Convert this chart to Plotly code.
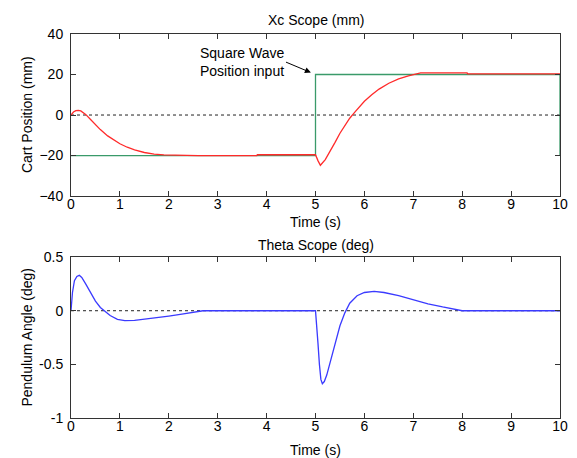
import plotly.graph_objects as go
from plotly.subplots import make_subplots

# Cart position response (mm)
cart_t = [0, 0.05, 0.1, 0.15, 0.2, 0.3, 0.4, 0.5, 0.6, 0.75, 0.9, 1.0, 1.15, 1.3, 1.5, 1.7,
          1.9, 2.2, 2.6, 3.0, 3.8, 3.81, 5.0, 5.05, 5.1, 5.2, 5.3, 5.4, 5.5, 5.6, 5.7, 5.8,
          5.9, 6.0, 6.15, 6.3, 6.5, 6.7, 6.9, 7.05, 7.15, 8.1, 8.11, 10]
cart_x = [0, 1.5, 2.2, 2.3, 2.0, 0.3, -2.2, -4.8, -7.2, -10.3, -12.8, -14.2, -15.9, -17.2,
          -18.5, -19.3, -19.7, -19.9, -20, -20, -20, -19.6, -19.6, -22.5, -24.8, -22.0,
          -18.0, -13.5, -9.0, -5.0, -1.6, 1.3, 4.0, 6.8, 10.0, 12.8, 15.7, 17.8, 19.3, 20.2,
          20.8, 20.8, 20.3, 20.3]

# Square wave reference input (mm)
ref_t = [0, 5, 5, 10, 10]
ref_x = [-20, -20, 20, 20, -20]

# Pendulum angle response (deg)
theta_t = [0, 0.03, 0.07, 0.12, 0.17, 0.22, 0.3, 0.4, 0.5, 0.6, 0.7, 0.8, 0.95, 1.1, 1.3,
           1.6, 2.0, 2.3, 2.6, 2.7, 5.0, 5.02, 5.05, 5.08, 5.11, 5.14, 5.18, 5.23, 5.3,
           5.4, 5.5, 5.6, 5.7, 5.85, 6.0, 6.2, 6.4, 6.7, 7.0, 7.3, 7.6, 7.9, 8.0, 10]
theta = [0, 0.17, 0.28, 0.32, 0.33, 0.31, 0.25, 0.17, 0.09, 0.03, -0.01, -0.045, -0.08,
         -0.093, -0.09, -0.075, -0.05, -0.03, -0.01, 0, 0, -0.1, -0.3, -0.5, -0.64, -0.68,
         -0.66, -0.6, -0.48, -0.3, -0.14, -0.02, 0.07, 0.14, 0.17, 0.18, 0.17, 0.14, 0.1,
         0.065, 0.035, 0.012, 0, 0]

time_range = [0, 10]
time_ticks = list(range(0, 11))
cart_ticks = [-40, -20, 0, 20, 40]
theta_ticks = [-1, -0.5, 0, 0.5]

FONT = "Arial, Liberation Sans, sans-serif"
FS = 14

fig = make_subplots(rows=2, cols=1, vertical_spacing=0.0)

# zero reference lines
for r in (1, 2):
    fig.add_trace(go.Scatter(x=time_range, y=[0, 0], mode="lines",
                             line=dict(color="#222222", width=1, dash="3px,3px"),
                             hoverinfo="skip"), row=r, col=1)

fig.add_trace(go.Scatter(x=ref_t, y=ref_x, mode="lines",
                         line=dict(color="#3a9a6a", width=1.3)), row=1, col=1)
fig.add_trace(go.Scatter(x=cart_t, y=cart_x, mode="lines",
                         line=dict(color="#ff2a2a", width=1.3)), row=1, col=1)
fig.add_trace(go.Scatter(x=theta_t, y=theta, mode="lines",
                         line=dict(color="#3a3aff", width=1.3)), row=2, col=1)

axis_style = dict(showgrid=False, zeroline=False, showline=True, linecolor="#333333",
                  linewidth=1, mirror="ticks", ticks="inside", ticklen=5,
                  tickcolor="#333333", tickfont=dict(family=FONT, size=FS, color="black"))

fig.update_xaxes(range=time_range, tickvals=time_ticks, ticklabelstandoff=-5, **axis_style)
fig.update_yaxes(ticklabelstandoff=4, **axis_style)
fig.update_yaxes(range=[-40, 40], tickvals=cart_ticks, row=1, col=1)
fig.update_yaxes(range=[-1, 0.5], tickvals=theta_ticks, ticktext=["-1", "-0.5", "0", "0.5"],
                 row=2, col=1)

fig.update_layout(
    xaxis=dict(domain=[0, 1]), xaxis2=dict(domain=[0, 1]),
    yaxis=dict(domain=[0.578, 1]), yaxis2=dict(domain=[0, 0.419]),
)

def note(text, x, y, xref, yref, **kw):
    fig.add_annotation(text=text, x=x, y=y, xref=xref, yref=yref, showarrow=False,
                       font=dict(family=FONT, size=FS, color="black"), **kw)

note("Xc Scope (mm)", 0.5, 1, "x domain", "y domain", yanchor="bottom", yshift=4)
note("Theta Scope (deg)", 0.5, 1, "x2 domain", "y2 domain", yanchor="bottom", yshift=2)
note("Time (s)", 0.5, 0, "x domain", "y domain", yanchor="top", yshift=-16)
note("Time (s)", 0.5, 0, "x2 domain", "y2 domain", yanchor="top", yshift=-22)
note("Cart Position (mm)", 0, 0.5, "x domain", "y domain", textangle=-90,
     xanchor="right", xshift=-34)
note("Pendulum Angle (deg)", 0, 0.5, "x2 domain", "y2 domain", textangle=-90,
     xanchor="right", xshift=-34)

# input label and arrow
note("Square Wave<br>Position input", 3.5, 26.4, "x", "y", align="left",
     xanchor="center", yanchor="middle")
fig.add_annotation(x=5, y=20, xref="x", yref="y", ax=-31, ay=-13, text="",
                   showarrow=True, arrowhead=2, arrowsize=1.2, arrowwidth=1,
                   arrowcolor="black", standoff=5)

fig.update_layout(
    width=577, height=458, showlegend=False,
    paper_bgcolor="white", plot_bgcolor="white",
    margin=dict(l=71, r=9, t=34, b=40),
)

fig.write_html("out.html")
